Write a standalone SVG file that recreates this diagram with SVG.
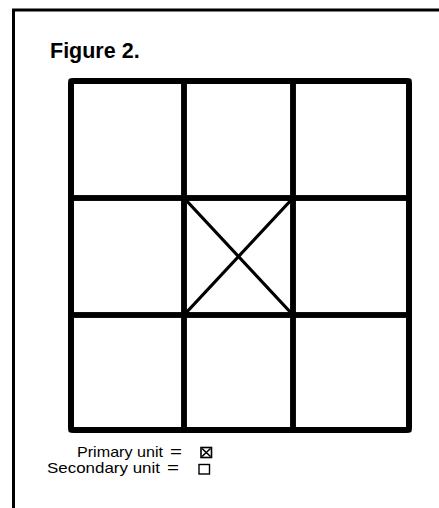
<svg xmlns="http://www.w3.org/2000/svg" width="439" height="508" viewBox="0 0 439 508">
<style>
.cell{fill:none;stroke:#000;stroke-width:5.5;stroke-linejoin:round}
.outer{fill:none;stroke:#000;stroke-width:6;stroke-linejoin:round}
.diag{stroke:#000;stroke-width:3.3;stroke-linecap:round}
.frame{stroke:#000;stroke-width:3;fill:none}
.lbl{font-family:"Liberation Sans",Arial,sans-serif;font-size:14.3px;fill:#000}
.title{font-family:"Liberation Sans",Arial,sans-serif;font-size:21.5px;font-weight:bold;fill:#000}
</style>
<rect width="439" height="508" fill="#fff"/>
<path class="frame" d="M13.5,508 V10 H439"/>
<text class="title" x="50" y="58">Figure 2.</text>
<g id="grid">
<g id="cell-1-1"><rect class="cell" x="71" y="81" width="113" height="117"/></g>
<g id="cell-1-2"><rect class="cell" x="184" y="81" width="109" height="117"/></g>
<g id="cell-1-3"><rect class="cell" x="293" y="81" width="116" height="117"/></g>
<g id="cell-2-1"><rect class="cell" x="71" y="198" width="113" height="117"/></g>
<g id="cell-2-2"><rect class="cell" x="184" y="198" width="109" height="117"/>
<line class="diag" x1="184" y1="198" x2="293" y2="315"/><line class="diag" x1="293" y1="198" x2="184" y2="315"/></g>
<g id="cell-2-3"><rect class="cell" x="293" y="198" width="116" height="117"/></g>
<g id="cell-3-1"><rect class="cell" x="71" y="315" width="113" height="115"/></g>
<g id="cell-3-2"><rect class="cell" x="184" y="315" width="109" height="115"/></g>
<g id="cell-3-3"><rect class="cell" x="293" y="315" width="116" height="115"/></g>
<rect class="outer" x="71" y="81" width="338" height="349" rx="3"/>
</g>
<g id="legend">
<text class="lbl" x="77" y="457" textLength="86" lengthAdjust="spacingAndGlyphs">Primary unit</text>
<text class="lbl" x="170" y="457" textLength="12" lengthAdjust="spacingAndGlyphs">=</text>
<g id="legend-primary"><rect x="201" y="447.5" width="10.5" height="10" fill="none" stroke="#000" stroke-width="1.6"/>
<path d="M202,448.5 L210.5,456.5 M210.5,448.5 L202,456.5" stroke="#000" stroke-width="1.6"/></g>
<text class="lbl" x="47" y="473" textLength="113" lengthAdjust="spacingAndGlyphs">Secondary unit</text>
<text class="lbl" x="167" y="473" textLength="12" lengthAdjust="spacingAndGlyphs">=</text>
<g id="legend-secondary"><rect x="199" y="464.5" width="10.5" height="9.5" fill="none" stroke="#000" stroke-width="1.4"/></g>
</g>
</svg>
